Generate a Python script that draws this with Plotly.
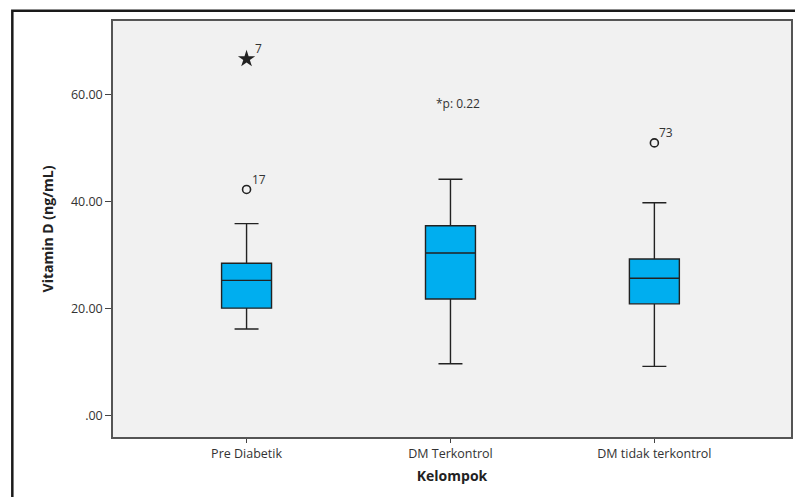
import plotly.graph_objects as go

# ---- data ----
groups = ["Pre Diabetik", "DM Terkontrol", "DM tidak terkontrol"]
q1 = [20.1, 21.8, 20.9]
median = [25.3, 30.4, 25.7]
q3 = [28.5, 35.5, 29.3]
lower_whisker = [16.2, 9.7, 9.2]
upper_whisker = [35.9, 44.2, 39.8]

# outliers (circle) and extreme values (star)
outlier_group = [0, 2]
outlier_value = [42.3, 51.0]
outlier_label = ["17", "73"]
extreme_group = [0]
extreme_value = [66.7]
extreme_label = ["7"]

y_ticks = [0, 20, 40, 60]
y_ticklabels = [".00", "20.00", "40.00", "60.00"]
p_text = "*p: 0.22"
p_pos = (1.035, 58.4)

FONT = "Open Sans, Noto Sans, sans-serif"
DARK = "#222222"

fig = go.Figure()
for i, g in enumerate(groups):
    fig.add_trace(go.Box(
        x=[i], q1=[q1[i]], median=[median[i]], q3=[q3[i]],
        lowerfence=[lower_whisker[i]], upperfence=[upper_whisker[i]],
        width=0.245, whiskerwidth=0.48,
        fillcolor="#00aeef", line=dict(color=DARK, width=1.4),
        boxpoints=False, showlegend=False, name=g,
    ))

fig.add_trace(go.Scatter(
    x=outlier_group, y=outlier_value, mode="markers",
    marker=dict(symbol="circle-open", size=8, color=DARK, line=dict(width=1.6, color=DARK)),
    showlegend=False))
fig.add_trace(go.Scatter(
    x=extreme_group, y=extreme_value, mode="markers",
    marker=dict(symbol="star", size=13, color=DARK, line=dict(width=0)),
    showlegend=False))

for gx, v, lab in zip(outlier_group + extreme_group, outlier_value + extreme_value,
                      outlier_label + extreme_label):
    fig.add_annotation(x=gx, y=v, text=lab, showarrow=False, xshift=12, yshift=10,
                       font=dict(family=FONT, size=12, color="#333"))

fig.add_annotation(x=p_pos[0], y=p_pos[1], text=p_text, showarrow=False,
                   font=dict(family=FONT, size=12, color="#333"))

# outer frame (partially visible)
fig.add_shape(type="path", xref="paper", yref="paper",
              path="M -0.1485,-0.2 L -0.1485,1.0245 L 1.02,1.0245",
              line=dict(color="#1a1a1a", width=2.5))

fig.update_layout(
    width=795, height=497,
    margin=dict(l=113, r=2, t=21, b=60),
    paper_bgcolor="white", plot_bgcolor="#f1f1f1",
    font=dict(family=FONT, size=12, color="#333"),
    xaxis=dict(
        range=[-0.655, 2.67], tickmode="array", tickvals=[0, 1, 2], ticktext=groups,
        showgrid=False, zeroline=False, ticks="outside", ticklen=4, tickcolor="#444",
        showline=True, linecolor="#555", linewidth=1.5, mirror=True,
        tickfont=dict(family=FONT, size=12.5, color="#333"),
        title=dict(text="<b>Kelompok</b>", font=dict(family=FONT, size=14, color="#222"), standoff=10),
    ),
    yaxis=dict(
        range=[-4.0, 73.8], tickmode="array", tickvals=y_ticks, ticktext=y_ticklabels,
        showgrid=False, zeroline=False, ticks="outside", ticklen=6, tickcolor="#444",
        showline=True, linecolor="#555", linewidth=1.5, mirror=True,
        tickfont=dict(family=FONT, size=12.5, color="#333"),
        title=dict(text="<b>Vitamin D (ng/mL)</b>", font=dict(family=FONT, size=14, color="#222"), standoff=14),
    ),
)

fig.write_html("out.html", config={"displayModeBar": False},
               post_script="document.body.style.margin='0';document.body.style.overflow='hidden';")
